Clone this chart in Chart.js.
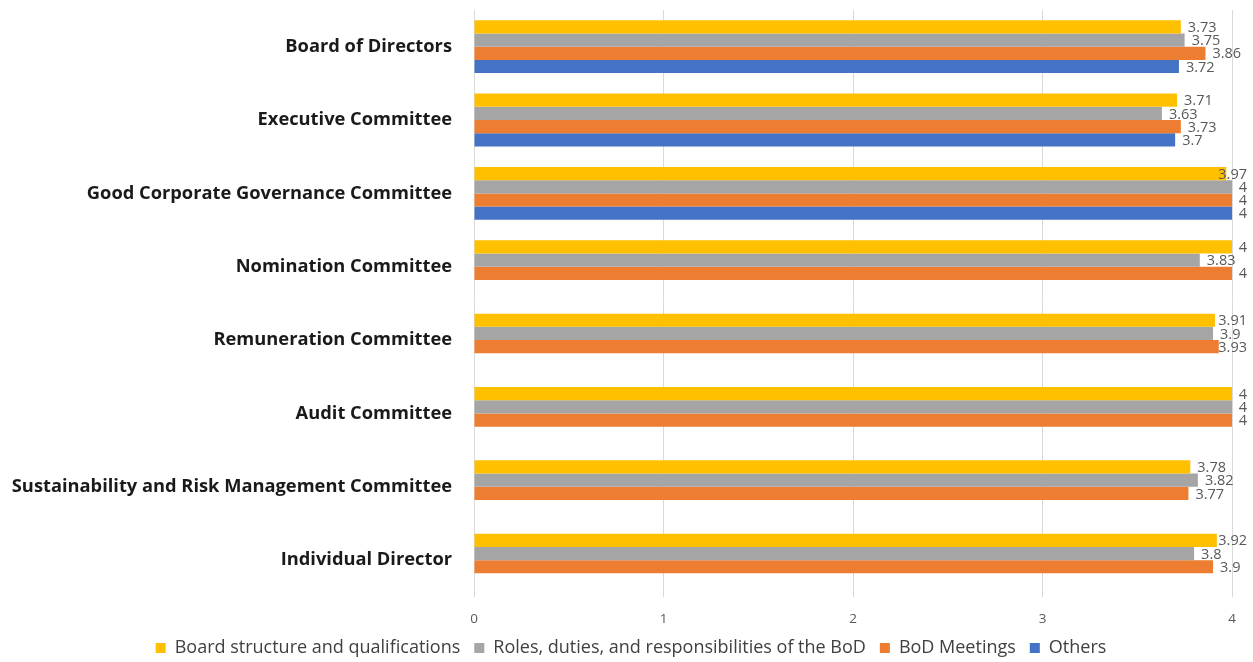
<!DOCTYPE html>
<html>
<head>
<meta charset="utf-8">
<script src="https://cdn.jsdelivr.net/npm/chart.js@4"></script>
<style>
html,body{margin:0;padding:0;background:#fff;}
#wrap{width:1253px;height:662px;}
</style>
</head>
<body>
<div id="wrap"><canvas id="c" width="1253" height="662"></canvas></div>
<script>
const categories = [
  "Board of Directors",
  "Executive Committee",
  "Good Corporate Governance Committee",
  "Nomination Committee",
  "Remuneration Committee",
  "Audit Committee",
  "Sustainability and Risk Management Committee",
  "Individual Director"
];
const seriesNames = [
  "Board structure and qualifications",
  "Roles, duties, and responsibilities of the BoD",
  "BoD Meetings",
  "Others"
];
const boardStructure = [3.73, 3.71, 3.97, 4, 3.91, 4, 3.78, 3.92];
const rolesDuties    = [3.75, 3.63, 4, 3.83, 3.9, 4, 3.82, 3.8];
const bodMeetings    = [3.86, 3.73, 4, 4, 3.93, 4, 3.77, 3.9];
const others         = [3.72, 3.7, 4, null, null, null, null, null];
const xTicks = [0, 1, 2, 3, 4];

const colors = ["#FFC000", "#A5A5A5", "#ED7D31", "#4472C4"];
const seriesData = [boardStructure, rolesDuties, bodMeetings, others];

const FONT = "'Open Sans', 'Liberation Sans', sans-serif";

const valueLabels = {
  id: 'valueLabels',
  afterDatasetsDraw(chart) {
    const ctx = chart.ctx;
    ctx.save();
    ctx.font = "14.5px " + FONT;
    ctx.fillStyle = "#595959";
    ctx.textAlign = "left";
    ctx.textBaseline = "middle";
    const maxRight = chart.width - 6;
    chart.data.datasets.forEach((ds, i) => {
      const meta = chart.getDatasetMeta(i);
      if (meta.hidden) return;
      meta.data.forEach((bar, j) => {
        const v = ds.data[j];
        if (v === null || v === undefined) return;
        const t = String(v);
        const w = ctx.measureText(t).width;
        const x = Math.min(bar.x + 7, maxRight - w);
        ctx.fillText(t, x, bar.y + 1);
      });
    });
    ctx.restore();
  }
};

const LEGEND_SHIFT_X = 14;
const LEGEND_SHIFT_Y = -16;
const legendFix = {
  id: 'legendFix',
  beforeLayout(chart) {
    const lg = chart.legend;
    if (!lg || lg._fixed) return;
    const origFit = lg.fit;
    lg.fit = function () {
      origFit.call(this);
      this.height = 21;
      this.bottom = this.top + this.height;
    };
    const origDraw = lg.draw;
    lg.draw = function () {
      const t = this.top, b = this.bottom, l = this.left, r = this.right;
      this.top = t + LEGEND_SHIFT_Y;
      this.bottom = chart.height;
      this.left = l + LEGEND_SHIFT_X;
      this.right = r + LEGEND_SHIFT_X;
      origDraw.apply(this, arguments);
      this.top = t; this.bottom = b; this.left = l; this.right = r;
    };
    lg._fixed = true;
  }
};

new Chart(document.getElementById('c'), {
  type: 'bar',
  data: {
    labels: categories,
    datasets: seriesData.map((d, i) => ({
      label: seriesNames[i],
      data: d,
      backgroundColor: colors[i],
      borderWidth: 0,
      barPercentage: 1.0,
      categoryPercentage: 0.72
    }))
  },
  options: {
    indexAxis: 'y',
    responsive: false,
    animation: false,
    layout: { padding: { top: 10, right: 21, left: 2, bottom: 0 } },
    scales: {
      x: {
        min: 0, max: 4,
        afterBuildTicks(axis) { axis.ticks = xTicks.map(v => ({ value: v })); },
        grid: { color: "#D9D9D9", drawTicks: false, lineWidth: 1 },
        border: { display: false },
        ticks: { padding: 14, maxRotation: 0, color: "#595959", font: { family: FONT, size: 13.5 } }
      },
      y: {
        grid: { display: false, drawTicks: false },
        border: { display: false },
        afterFit(axis) { axis.width = 472; axis.paddingTop = 0; axis.paddingBottom = 0; },
        ticks: { padding: 22, color: "#1a1a1a", font: { family: FONT, size: 18.3, weight: 'bold' } }
      }
    },
    plugins: {
      legend: {
        position: 'bottom',
        labels: {
          boxWidth: 10, boxHeight: 10, padding: 14,
          color: "#404040",
          font: { family: FONT, size: 18 }
        }
      },
      tooltip: { enabled: false }
    }
  },
  plugins: [legendFix, valueLabels]
});
</script>
</body>
</html>
